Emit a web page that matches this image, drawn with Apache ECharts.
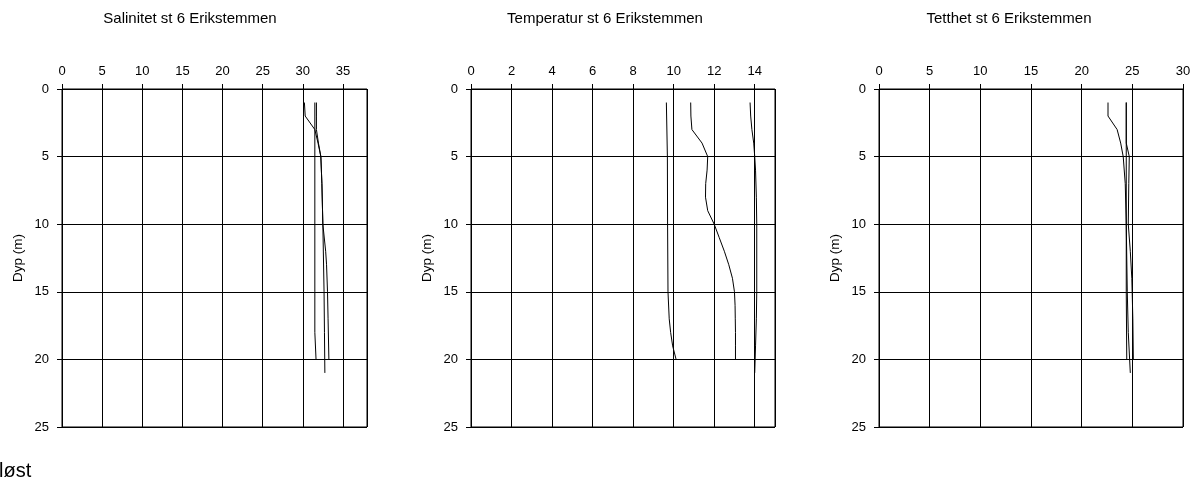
<!DOCTYPE html>
<html><head><meta charset="utf-8">
<script src="https://cdn.jsdelivr.net/npm/echarts@6/dist/echarts.min.js"></script>
<style>html,body{margin:0;padding:0;background:#fff}#c{width:1200px;height:481px}</style>
</head><body><div id="c"></div>
<script>
// ---- Data (depth in m, value) ----
const titles = ['Salinitet st 6 Erikstemmen', 'Temperatur st 6 Erikstemmen', 'Tetthet st 6 Erikstemmen'];
const yName = 'Dyp (m)';
const footText = 'løst';

// Salinity
const salDepthX = [1, 2, 3, 4, 5, 7, 10, 15, 18, 21];
const salX      = [30.2, 30.3, 31.5, 31.9, 32.25, 32.38, 32.5, 32.65, 32.7, 32.75];
const salDepthY = [1, 2, 3, 4, 5, 7, 10, 12, 13, 15, 17, 20];
const salY      = [31.7, 31.7, 31.7, 31.95, 32.25, 32.38, 32.5, 32.85, 32.96, 33.08, 33.15, 33.25];
const salDepthZ = [1, 5, 10, 15, 18, 20];
const salZ      = [31.5, 31.5, 31.5, 31.5, 31.5, 31.65];

// Temperature
const tmpDepthX = [1, 2, 3, 4, 5, 6, 8, 10, 15, 17, 19, 21];
const tmpX      = [13.77, 13.8, 13.86, 13.95, 14.0, 14.04, 14.08, 14.1, 14.1, 14.08, 14.04, 14.0];
const tmpDepthY = [1, 2, 3, 4, 5, 6, 7, 8, 9, 10, 11, 12, 13, 14, 15, 16, 17, 18, 19, 20];
const tmpY      = [10.84, 10.85, 10.9, 11.4, 11.68, 11.65, 11.58, 11.57, 11.68, 12.0, 12.25, 12.5, 12.72, 12.9, 13.0, 13.03, 13.04, 13.05, 13.05, 13.05];
const tmpDepthZ = [1, 5, 10, 15, 17, 18, 19, 20];
const tmpZ      = [9.64, 9.69, 9.7, 9.72, 9.78, 9.85, 9.95, 10.12];

// Density (sigma-t)
const denDepthX = [1, 2, 3, 4, 5, 7, 10, 15, 18, 21];
const denX      = [22.6, 22.6, 23.5, 23.85, 24.1, 24.3, 24.4, 24.5, 24.6, 24.8];
const denDepthY = [1, 4, 5, 7, 10, 12, 14, 17, 20];
const denY      = [24.4, 24.4, 24.7, 24.65, 24.6, 24.8, 24.95, 25.05, 25.1];
const denDepthZ = [1, 5, 10, 15, 20];
const denZ      = [24.4, 24.4, 24.4, 24.4, 24.45];

// Axis setup
const xMax = [38, 15, 30];
const xInterval = [5, 2, 5];
const yMax = 25, yInterval = 5;

const FONT = 'Liberation Sans, Arial, sans-serif';
const pairs = (d, v) => d.map((dd, i) => [v[i], dd]);

const grids = [
  {left: 62, top: 89, width: 305, height: 338},
  {left: 471, top: 89, width: 304, height: 338},
  {left: 879, top: 89, width: 304, height: 338}
].map(g => Object.assign(g, {show: true, borderColor: '#000', borderWidth: 1, backgroundColor: 'transparent'}));

const lineCol = {color: '#000', width: 1};
const xAxes = [0, 1, 2].map(i => ({
  gridIndex: i, type: 'value', position: 'top', min: 0, max: xMax[i], interval: xInterval[i],
  axisLine: {show: true, onZero: false, lineStyle: lineCol},
  axisTick: {show: true, inside: false, length: 5, lineStyle: lineCol},
  axisLabel: {color: '#000', fontSize: 13, fontFamily: FONT, margin: 11, showMaxLabel: i === 2, showMinLabel: true},
  splitLine: {show: true, lineStyle: lineCol}
}));
const yAxes = [0, 1, 2].map(i => ({
  gridIndex: i, type: 'value', inverse: true, min: 0, max: yMax, interval: yInterval,
  name: yName, nameLocation: 'middle', nameGap: 37,
  nameTextStyle: {color: '#000', fontSize: 13.5, fontFamily: FONT},
  axisLine: {show: true, onZero: false, lineStyle: lineCol},
  axisTick: {show: true, inside: false, length: 5, lineStyle: lineCol},
  axisLabel: {color: '#000', fontSize: 13, fontFamily: FONT, margin: 13},
  splitLine: {show: true, lineStyle: lineCol}
}));

const mk = (i, d, v) => ({
  type: 'line', xAxisIndex: i, yAxisIndex: i, data: pairs(d, v),
  showSymbol: false, symbol: 'none', smooth: false, silent: true,
  lineStyle: {color: '#000', width: 1}
});

const series = [
  mk(0, salDepthX, salX), mk(0, salDepthY, salY), mk(0, salDepthZ, salZ),
  mk(1, tmpDepthX, tmpX), mk(1, tmpDepthY, tmpY), mk(1, tmpDepthZ, tmpZ),
  mk(2, denDepthX, denX), mk(2, denDepthY, denY), mk(2, denDepthZ, denZ)
];

const titleX = [190, 605, 1009];
const graphic = titles.map((t, i) => ({
  type: 'text', x: titleX[i], y: 19,
  style: {text: t, fontSize: 15, fontFamily: FONT, fill: '#000', align: 'center', verticalAlign: 'middle'}
}));
graphic.push({type: 'text', x: -1, y: 471, style: {text: footText, fontSize: 20, fontFamily: FONT, fill: '#000', align: 'left', verticalAlign: 'middle'}});

const chart = echarts.init(document.getElementById('c'), null, {renderer: 'canvas'});
chart.setOption({
  animation: false,
  backgroundColor: '#fff',
  grid: grids, xAxis: xAxes, yAxis: yAxes, series, graphic
});
</script>
</body></html>
